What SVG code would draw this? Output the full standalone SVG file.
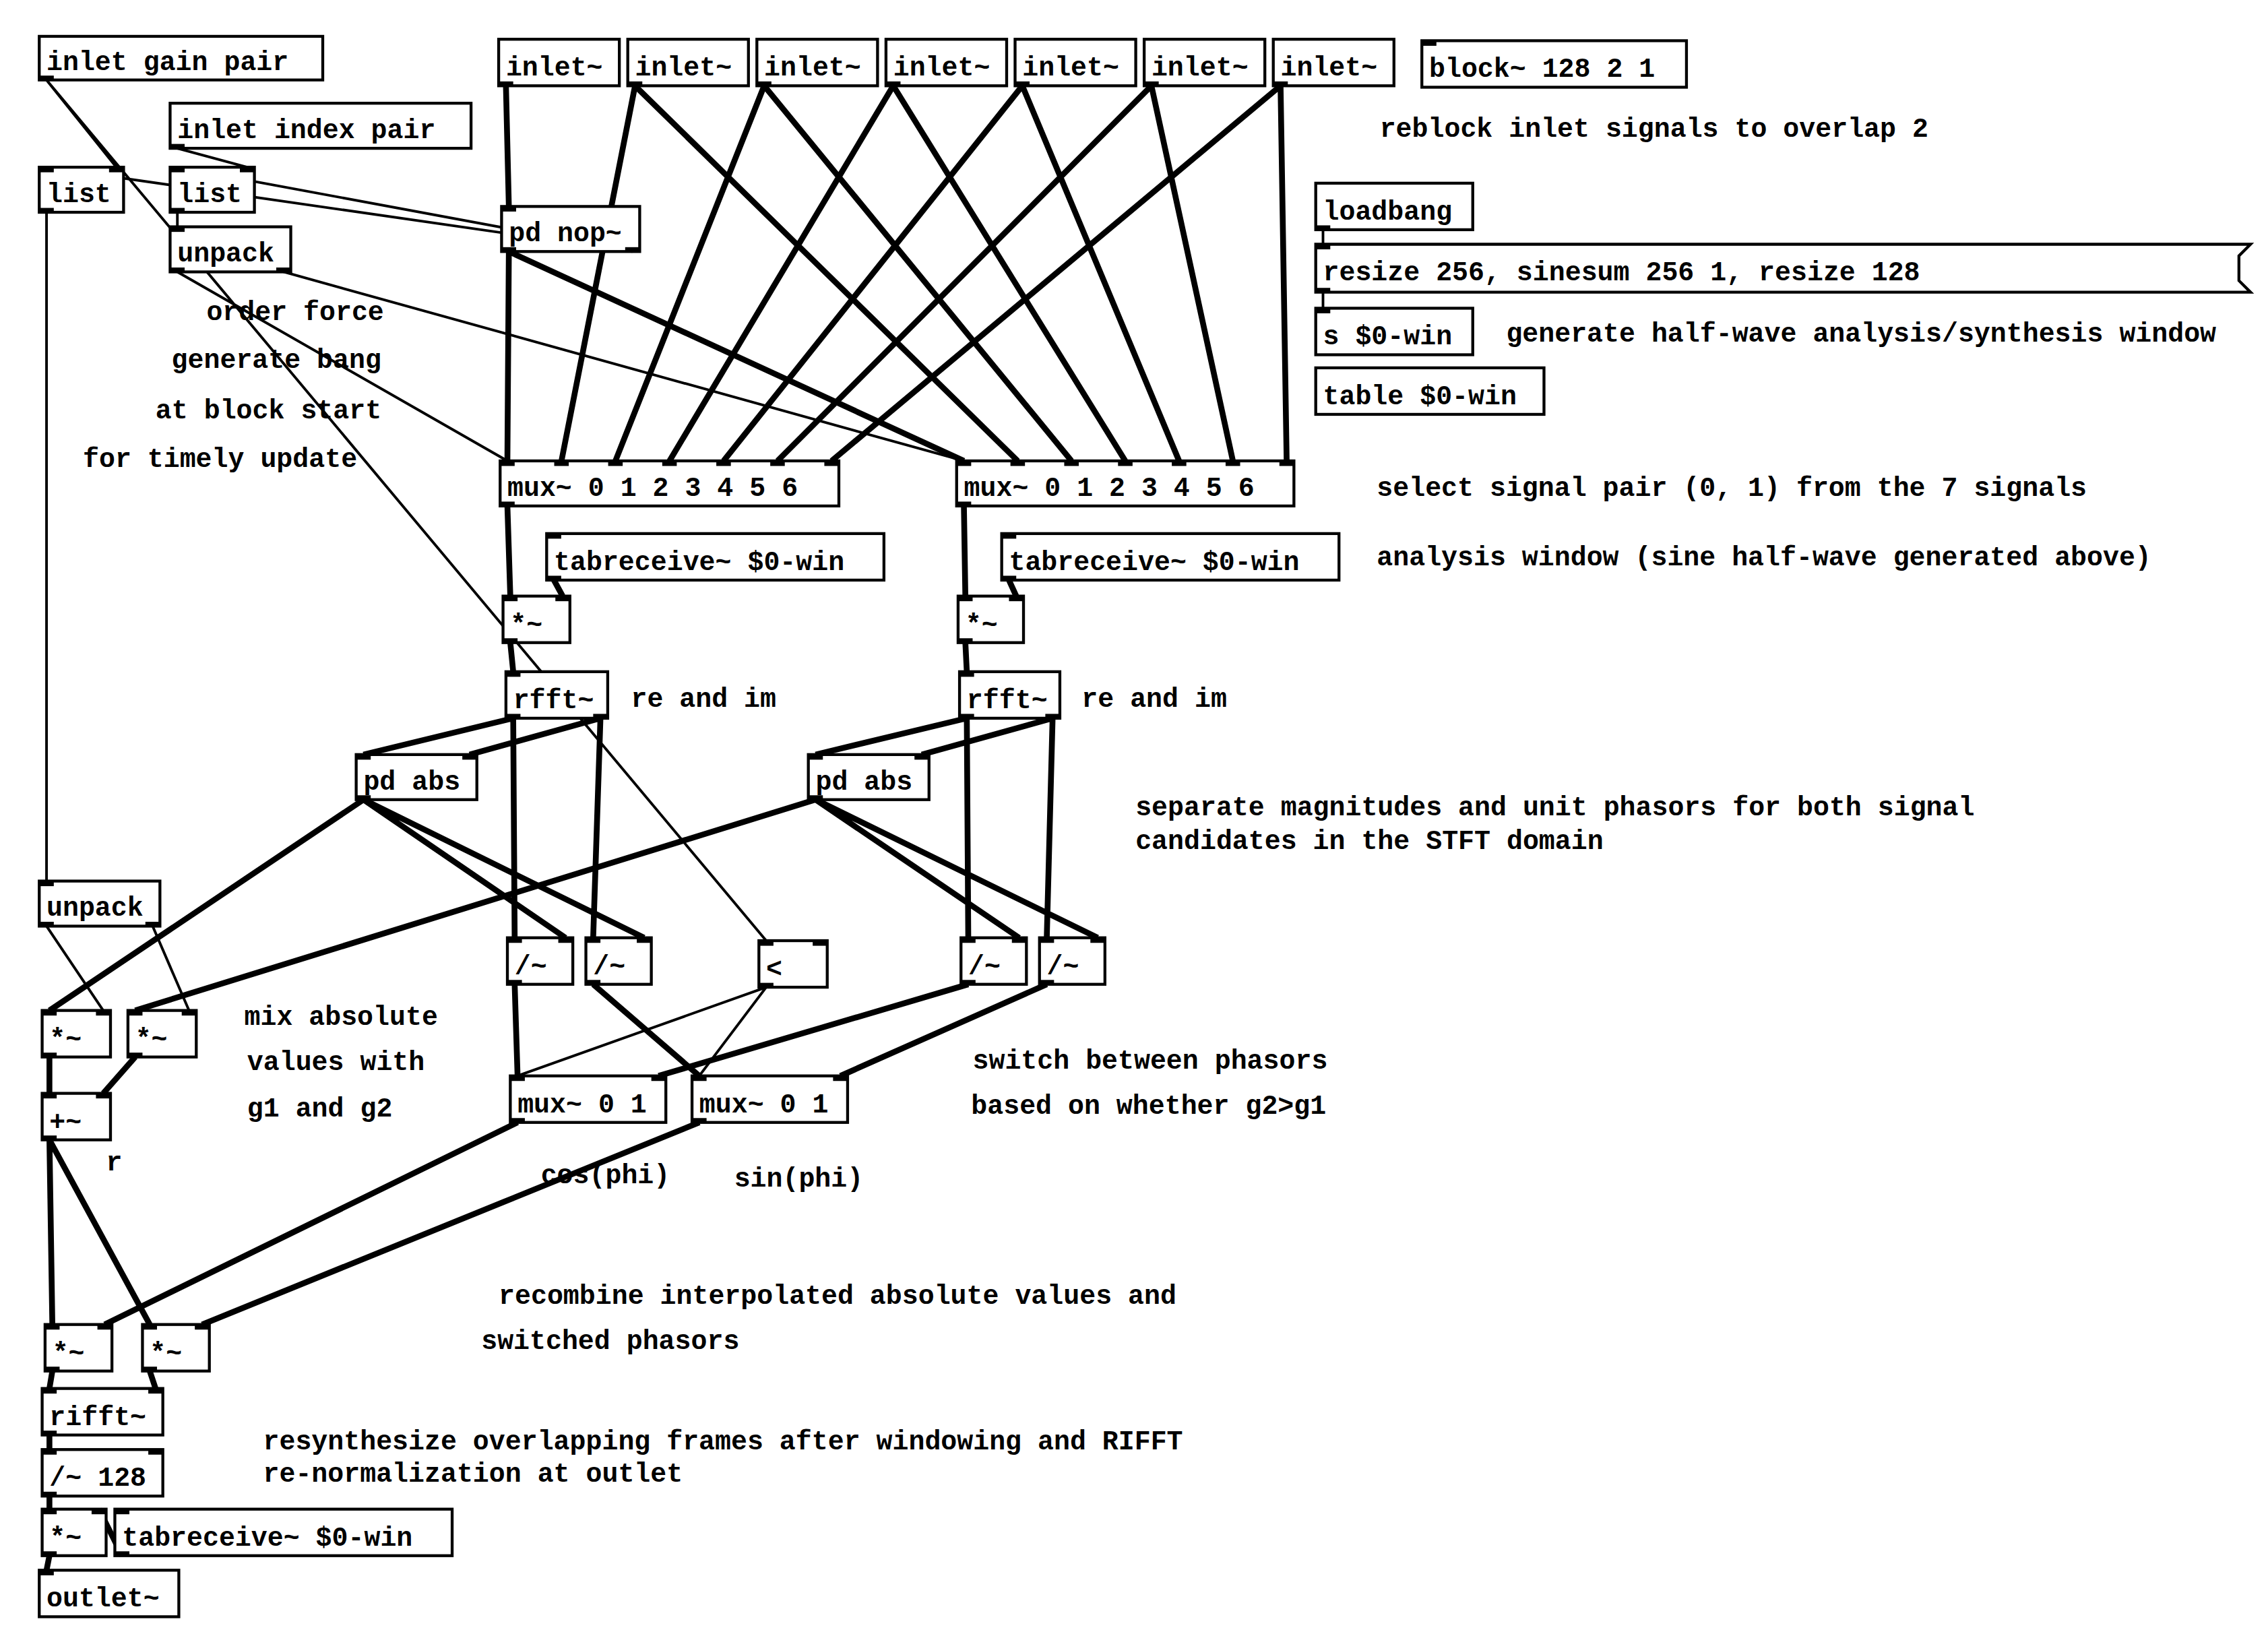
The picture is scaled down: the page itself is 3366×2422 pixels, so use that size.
<svg xmlns="http://www.w3.org/2000/svg" width="3366" height="2422" viewBox="0 0 3366 2422">
<style>
.b{fill:#fff;stroke:#000;stroke-width:2}
.t{fill:#000}
text{font-family:"Liberation Mono","Courier New",monospace;font-size:18.5px;font-weight:bold;fill:#000}
.s{stroke:#000;stroke-width:4;fill:none}
.c{stroke:#000;stroke-width:1.8;fill:none}
</style>
<rect width="3366" height="2422" fill="#fff"/>
<g transform="scale(2.1577)">
<g id="connectors">
<path class="s" d="M348 59L350 142M350 173L349 317M350 173L663 317"/>
<path class="c" d="M435 173L32 115M435 173L122 115"/>
<path class="s" d="M436.8 59L386.2 317M436.8 59L700 317M525.6 59L423.3 317M525.6 59L737 317M614.4 59L460.5 317M614.4 59L774 317M703.2 59L497.7 317M703.2 59L811 317M792 59L534.8 317M792 59L848 317M880.8 59L572 317M880.8 59L885 317"/>
<path class="c" d="M32 55L80 115M32 55L527 647M122 102L170 115M122 146L122 156M122 187L349 317M195 187L663 317M32 146L32 606M32 637L71 695M105 637L130 695M527 679L356 740M527 679L481 740M910 158L910 168M910 201L910 212"/>
<path class="s" d="M349 348L351 410M381 399L387 410M351 442L353 462M353 494L250 519M353 494L354 645M413 494L323 519M413 494L408 645M250 550L389 645M250 550L443 645M250 550L34 695"/>
<path class="s" d="M663 348L664 410M694 399L699 410M664 442L665 462M665 494L561 519M665 494L666 645M724 494L634 519M724 494L720 645M561 550L701 645M561 550L755 645M561 550L93 695"/>
<path class="s" d="M354 677L356 740M408 677L481 740M666 677L453 740M720 677L578 740M34 727L34 752M93 727L71 752M34 784L36 911M34 784L103 911M356 772L72 911M481 772L139 911M36 943L34 955M103 943L107 955M34 987L34 997M34 1029L34 1038M84 1070L68 1038M34 1070L32 1080"/>
</g>
<g id="n_gainpair"><rect class="b" x="27" y="25" width="195" height="30"/><rect class="t" x="27" y="52" width="10" height="3.5"/><text x="32" y="48">inlet gain pair</text></g>
<g id="n_indexpair"><rect class="b" x="117" y="71" width="207" height="31"/><rect class="t" x="117" y="99" width="10" height="3.5"/><text x="122" y="95">inlet index pair</text></g>
<g id="n_list1"><rect class="b" x="27" y="115" width="58" height="31"/><rect class="t" x="27" y="115" width="10" height="3.5"/><rect class="t" x="75" y="115" width="10" height="3.5"/><rect class="t" x="27" y="143" width="10" height="3.5"/><text x="32" y="139">list</text></g>
<g id="n_list2"><rect class="b" x="117" y="115" width="58" height="31"/><rect class="t" x="117" y="115" width="10" height="3.5"/><rect class="t" x="165" y="115" width="10" height="3.5"/><rect class="t" x="117" y="143" width="10" height="3.5"/><text x="122" y="139">list</text></g>
<g id="n_unpack1"><rect class="b" x="117" y="156" width="83" height="31"/><rect class="t" x="117" y="156" width="10" height="3.5"/><rect class="t" x="117" y="184" width="10" height="3.5"/><rect class="t" x="190" y="184" width="10" height="3.5"/><text x="122" y="180">unpack</text></g>
<g id="n_in1"><rect class="b" x="343" y="27" width="83" height="32"/><rect class="t" x="343" y="56" width="10" height="3.5"/><text x="348" y="52">inlet~</text></g>
<g id="n_in2"><rect class="b" x="431.8" y="27" width="83" height="32"/><rect class="t" x="431.8" y="56" width="10" height="3.5"/><text x="436.8" y="52">inlet~</text></g>
<g id="n_in3"><rect class="b" x="520.6" y="27" width="83" height="32"/><rect class="t" x="520.6" y="56" width="10" height="3.5"/><text x="525.6" y="52">inlet~</text></g>
<g id="n_in4"><rect class="b" x="609.4" y="27" width="83" height="32"/><rect class="t" x="609.4" y="56" width="10" height="3.5"/><text x="614.4" y="52">inlet~</text></g>
<g id="n_in5"><rect class="b" x="698.2" y="27" width="83" height="32"/><rect class="t" x="698.2" y="56" width="10" height="3.5"/><text x="703.2" y="52">inlet~</text></g>
<g id="n_in6"><rect class="b" x="787" y="27" width="83" height="32"/><rect class="t" x="787" y="56" width="10" height="3.5"/><text x="792" y="52">inlet~</text></g>
<g id="n_in7"><rect class="b" x="875.8" y="27" width="83" height="32"/><rect class="t" x="875.8" y="56" width="10" height="3.5"/><text x="880.8" y="52">inlet~</text></g>
<g id="n_block"><rect class="b" x="978" y="28" width="182" height="32"/><rect class="t" x="978" y="28" width="10" height="3.5"/><text x="983" y="53">block~ 128 2 1</text></g>
<g id="n_pdnop"><rect class="b" x="345" y="142" width="95" height="31"/><rect class="t" x="345" y="142" width="10" height="3.5"/><rect class="t" x="345" y="170" width="10" height="3.5"/><rect class="t" x="430" y="170" width="10" height="3.5"/><text x="350" y="166">pd nop~</text></g>
<g id="n_loadbang"><rect class="b" x="905" y="126" width="108" height="32"/><rect class="t" x="905" y="155" width="10" height="3.5"/><text x="910" y="151">loadbang</text></g>
<g id="n_msg"><path class="b" d="M905 168H1548L1540 176V193L1548 201H905Z"/><rect class="t" x="905" y="168" width="10" height="3.5"/><rect class="t" x="905" y="198" width="10" height="3.5"/><text x="910" y="193">resize 256, sinesum 256 1, resize 128</text></g>
<g id="n_send"><rect class="b" x="905" y="212" width="108" height="32"/><rect class="t" x="905" y="212" width="10" height="3.5"/><text x="910" y="237">s $0-win</text></g>
<g id="n_table"><rect class="b" x="905" y="253" width="157" height="32"/><text x="910" y="278">table $0-win</text></g>
<g id="n_mux1"><rect class="b" x="344" y="317" width="233" height="31"/><g class="t"><rect x="344" y="317" width="10" height="3.5"/><rect x="381.2" y="317" width="10" height="3.5"/><rect x="418.3" y="317" width="10" height="3.5"/><rect x="455.5" y="317" width="10" height="3.5"/><rect x="492.7" y="317" width="10" height="3.5"/><rect x="529.8" y="317" width="10" height="3.5"/><rect x="567" y="317" width="10" height="3.5"/><rect x="344" y="345" width="10" height="3.5"/></g><text x="349" y="341">mux~ 0 1 2 3 4 5 6</text></g>
<g id="n_mux2"><rect class="b" x="658" y="317" width="232" height="31"/><g class="t"><rect x="658" y="317" width="10" height="3.5"/><rect x="695" y="317" width="10" height="3.5"/><rect x="732" y="317" width="10" height="3.5"/><rect x="769" y="317" width="10" height="3.5"/><rect x="806" y="317" width="10" height="3.5"/><rect x="843" y="317" width="10" height="3.5"/><rect x="880" y="317" width="10" height="3.5"/><rect x="658" y="345" width="10" height="3.5"/></g><text x="663" y="341">mux~ 0 1 2 3 4 5 6</text></g>
<g id="n_tab1"><rect class="b" x="376" y="367" width="232" height="32"/><rect class="t" x="376" y="367" width="10" height="3.5"/><rect class="t" x="376" y="396" width="10" height="3.5"/><text x="381" y="392">tabreceive~ $0-win</text></g>
<g id="n_tab2"><rect class="b" x="689" y="367" width="232" height="32"/><rect class="t" x="689" y="367" width="10" height="3.5"/><rect class="t" x="689" y="396" width="10" height="3.5"/><text x="694" y="392">tabreceive~ $0-win</text></g>
<g id="n_mul1"><rect class="b" x="346" y="410" width="46" height="32"/><rect class="t" x="346" y="410" width="10" height="3.5"/><rect class="t" x="382" y="410" width="10" height="3.5"/><rect class="t" x="346" y="439" width="10" height="3.5"/><text x="351" y="435">*~</text></g>
<g id="n_mul2"><rect class="b" x="659" y="410" width="45" height="32"/><rect class="t" x="659" y="410" width="10" height="3.5"/><rect class="t" x="694" y="410" width="10" height="3.5"/><rect class="t" x="659" y="439" width="10" height="3.5"/><text x="664" y="435">*~</text></g>
<g id="n_rfft1"><rect class="b" x="348" y="462" width="70" height="32"/><rect class="t" x="348" y="462" width="10" height="3.5"/><rect class="t" x="348" y="491" width="10" height="3.5"/><rect class="t" x="408" y="491" width="10" height="3.5"/><text x="353" y="487">rfft~</text></g>
<g id="n_rfft2"><rect class="b" x="660" y="462" width="69" height="32"/><rect class="t" x="660" y="462" width="10" height="3.5"/><rect class="t" x="660" y="491" width="10" height="3.5"/><rect class="t" x="719" y="491" width="10" height="3.5"/><text x="665" y="487">rfft~</text></g>
<g id="n_abs1"><rect class="b" x="245" y="519" width="83" height="31"/><rect class="t" x="245" y="519" width="10" height="3.5"/><rect class="t" x="318" y="519" width="10" height="3.5"/><rect class="t" x="245" y="547" width="10" height="3.5"/><text x="250" y="543">pd abs</text></g>
<g id="n_abs2"><rect class="b" x="556" y="519" width="83" height="31"/><rect class="t" x="556" y="519" width="10" height="3.5"/><rect class="t" x="629" y="519" width="10" height="3.5"/><rect class="t" x="556" y="547" width="10" height="3.5"/><text x="561" y="543">pd abs</text></g>
<g id="n_div1"><rect class="b" x="349" y="645" width="45" height="32"/><rect class="t" x="349" y="645" width="10" height="3.5"/><rect class="t" x="384" y="645" width="10" height="3.5"/><rect class="t" x="349" y="674" width="10" height="3.5"/><text x="354" y="670">/~</text></g>
<g id="n_div2"><rect class="b" x="403" y="645" width="45" height="32"/><rect class="t" x="403" y="645" width="10" height="3.5"/><rect class="t" x="438" y="645" width="10" height="3.5"/><rect class="t" x="403" y="674" width="10" height="3.5"/><text x="408" y="670">/~</text></g>
<g id="n_lt"><rect class="b" x="522" y="647" width="47" height="32"/><rect class="t" x="522" y="647" width="10" height="3.5"/><rect class="t" x="559" y="647" width="10" height="3.5"/><rect class="t" x="522" y="676" width="10" height="3.5"/><text x="527" y="672">&lt;</text></g>
<g id="n_div3"><rect class="b" x="661" y="645" width="45" height="32"/><rect class="t" x="661" y="645" width="10" height="3.5"/><rect class="t" x="696" y="645" width="10" height="3.5"/><rect class="t" x="661" y="674" width="10" height="3.5"/><text x="666" y="670">/~</text></g>
<g id="n_div4"><rect class="b" x="715" y="645" width="45" height="32"/><rect class="t" x="715" y="645" width="10" height="3.5"/><rect class="t" x="750" y="645" width="10" height="3.5"/><rect class="t" x="715" y="674" width="10" height="3.5"/><text x="720" y="670">/~</text></g>
<g id="n_muxA"><rect class="b" x="351" y="740" width="107" height="32"/><rect class="t" x="351" y="740" width="10" height="3.5"/><rect class="t" x="448" y="740" width="10" height="3.5"/><rect class="t" x="351" y="769" width="10" height="3.5"/><text x="356" y="765">mux~ 0 1</text></g>
<g id="n_muxB"><rect class="b" x="476" y="740" width="107" height="32"/><rect class="t" x="476" y="740" width="10" height="3.5"/><rect class="t" x="573" y="740" width="10" height="3.5"/><rect class="t" x="476" y="769" width="10" height="3.5"/><text x="481" y="765">mux~ 0 1</text></g>
<g id="n_unpack2"><rect class="b" x="27" y="606" width="83" height="31"/><rect class="t" x="27" y="606" width="10" height="3.5"/><rect class="t" x="27" y="634" width="10" height="3.5"/><rect class="t" x="100" y="634" width="10" height="3.5"/><text x="32" y="630">unpack</text></g>
<g id="n_mulA"><rect class="b" x="29" y="695" width="47" height="32"/><rect class="t" x="29" y="695" width="10" height="3.5"/><rect class="t" x="66" y="695" width="10" height="3.5"/><rect class="t" x="29" y="724" width="10" height="3.5"/><text x="34" y="720">*~</text></g>
<g id="n_mulB"><rect class="b" x="88" y="695" width="47" height="32"/><rect class="t" x="88" y="695" width="10" height="3.5"/><rect class="t" x="125" y="695" width="10" height="3.5"/><rect class="t" x="88" y="724" width="10" height="3.5"/><text x="93" y="720">*~</text></g>
<g id="n_add"><rect class="b" x="29" y="752" width="47" height="32"/><rect class="t" x="29" y="752" width="10" height="3.5"/><rect class="t" x="66" y="752" width="10" height="3.5"/><rect class="t" x="29" y="781" width="10" height="3.5"/><text x="34" y="777">+~</text></g>
<g id="n_mulC"><rect class="b" x="31" y="911" width="46" height="32"/><rect class="t" x="31" y="911" width="10" height="3.5"/><rect class="t" x="67" y="911" width="10" height="3.5"/><rect class="t" x="31" y="940" width="10" height="3.5"/><text x="36" y="936">*~</text></g>
<g id="n_mulD"><rect class="b" x="98" y="911" width="46" height="32"/><rect class="t" x="98" y="911" width="10" height="3.5"/><rect class="t" x="134" y="911" width="10" height="3.5"/><rect class="t" x="98" y="940" width="10" height="3.5"/><text x="103" y="936">*~</text></g>
<g id="n_rifft"><rect class="b" x="29" y="955" width="83" height="32"/><rect class="t" x="29" y="955" width="10" height="3.5"/><rect class="t" x="102" y="955" width="10" height="3.5"/><rect class="t" x="29" y="984" width="10" height="3.5"/><text x="34" y="980">rifft~</text></g>
<g id="n_div128"><rect class="b" x="29" y="997" width="83" height="32"/><rect class="t" x="29" y="997" width="10" height="3.5"/><rect class="t" x="102" y="997" width="10" height="3.5"/><rect class="t" x="29" y="1026" width="10" height="3.5"/><text x="34" y="1022">/~ 128</text></g>
<g id="n_mulE"><rect class="b" x="29" y="1038" width="44" height="32"/><rect class="t" x="29" y="1038" width="10" height="3.5"/><rect class="t" x="63" y="1038" width="10" height="3.5"/><rect class="t" x="29" y="1067" width="10" height="3.5"/><text x="34" y="1063">*~</text></g>
<g id="n_tab3"><rect class="b" x="79" y="1038" width="232" height="32"/><rect class="t" x="79" y="1038" width="10" height="3.5"/><rect class="t" x="79" y="1067" width="10" height="3.5"/><text x="84" y="1063">tabreceive~ $0-win</text></g>
<g id="n_outlet"><rect class="b" x="27" y="1080" width="96" height="32"/><rect class="t" x="27" y="1080" width="10" height="3.5"/><text x="32" y="1105">outlet~</text></g>
<g id="comments">
<text x="949" y="94">reblock inlet signals to overlap 2</text>
<text x="1036" y="235">generate half-wave analysis/synthesis window</text>
<text x="947" y="341">select signal pair (0, 1) from the 7 signals</text>
<text x="947" y="389">analysis window (sine half-wave generated above)</text>
<text x="434" y="486">re and im</text>
<text x="744" y="486">re and im</text>
<text x="781" y="561">separate magnitudes and unit phasors for both signal</text>
<text x="781" y="584">candidates in the STFT domain</text>
<text x="142" y="220">order force</text>
<text x="118" y="253">generate bang</text>
<text x="107" y="288">at block start</text>
<text x="57" y="321">for timely update</text>
<text x="168" y="705">mix absolute</text>
<text x="170" y="736">values with</text>
<text x="170" y="768">g1 and g2</text>
<text x="73" y="805">r</text>
<text x="669" y="735">switch between phasors</text>
<text x="668" y="766">based on whether g2&gt;g1</text>
<text x="372" y="814">cos(phi)</text>
<text x="505" y="816">sin(phi)</text>
<text x="343" y="897">recombine interpolated absolute values and</text>
<text x="331" y="928">switched phasors</text>
<text x="181" y="997">resynthesize overlapping frames after windowing and RIFFT</text>
<text x="181" y="1019">re-normalization at outlet</text>
</g>
</g>
</svg>
